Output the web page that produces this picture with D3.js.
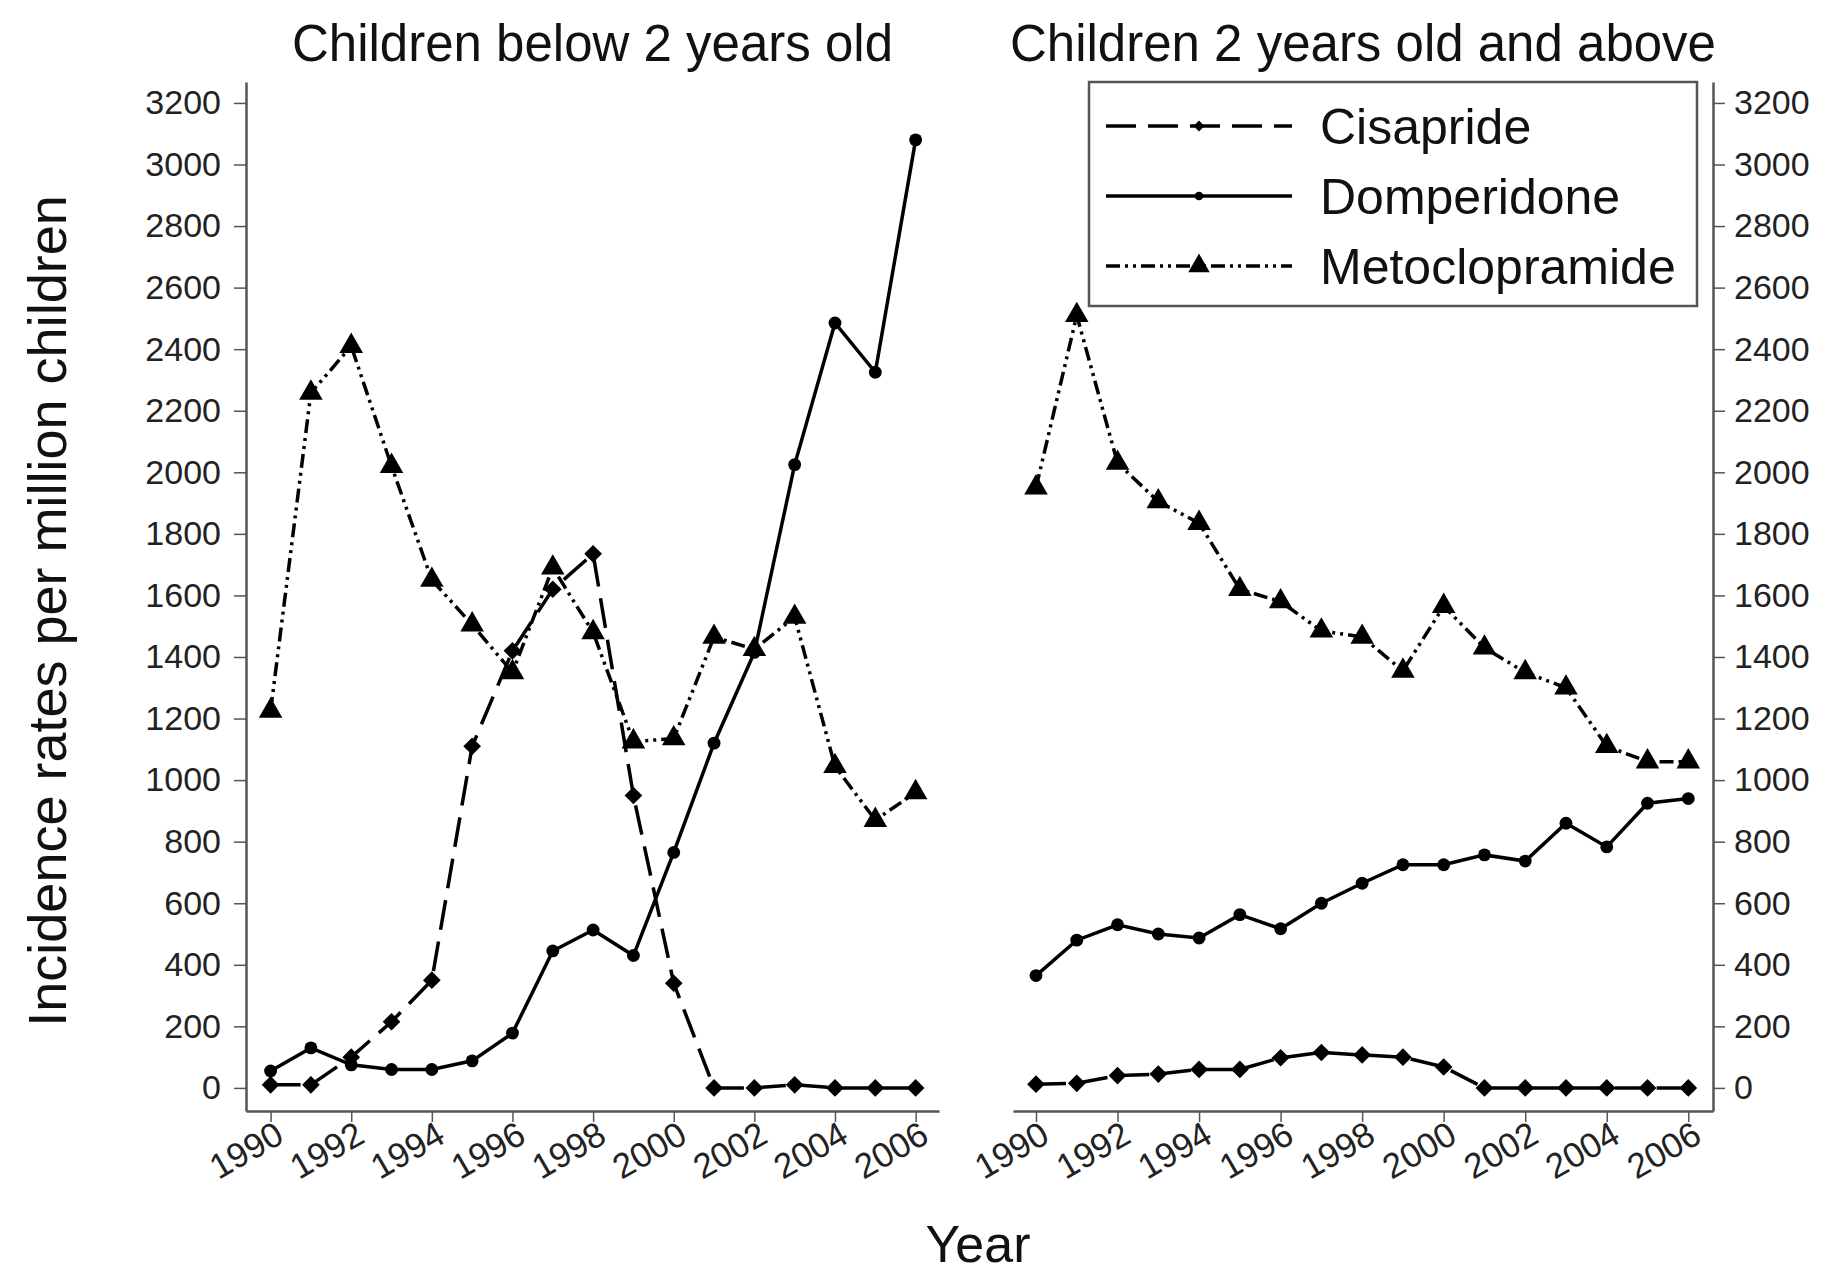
<!DOCTYPE html>
<html>
<head>
<meta charset="utf-8">
<script src="https://cdn.jsdelivr.net/npm/d3@7"></script>
<style>
  body { margin: 0; background: #fff; }
  svg { display: block; font-family: "Liberation Sans", Arial, sans-serif; }
  .axis text { fill: #222; }
</style>
</head>
<body>
<svg id="chart" width="1829" height="1275"></svg>
<script>
const years = [1990, 1991, 1992, 1993, 1994, 1995, 1996, 1997, 1998, 1999, 2000, 2001, 2002, 2003, 2004, 2005, 2006];
const xTicks = [1990, 1992, 1994, 1996, 1998, 2000, 2002, 2004, 2006];
const yTicks = [0, 200, 400, 600, 800, 1000, 1200, 1400, 1600, 1800, 2000, 2200, 2400, 2600, 2800, 3000, 3200];

// children below 2 years old
const cisaprideUnder2 = [10, 10, 100, 215, 350, 1110, 1420, 1620, 1735, 950, 340, 0, 0, 10, 0, 0, 0];
const domperidoneUnder2 = [55, 130, 75, 60, 60, 88, 178, 445, 513, 430, 765, 1120, 1415, 2025, 2485, 2325, 3080];
const metoclopramideUnder2 = [1225, 2258, 2410, 2020, 1650, 1505, 1350, 1690, 1480, 1125, 1135, 1465, 1425, 1530, 1045, 870, 960];

// children 2 years old and above
const cisaprideOver2 = [12, 15, 40, 45, 60, 60, 98, 115, 107, 100, 68, 0, 0, 0, 0, 0, 0];
const domperidoneOver2 = [365, 480, 530, 500, 487, 563, 517, 600, 665, 725, 725, 757, 737, 860, 783, 925, 940];
const metoclopramideOver2 = [1950, 2510, 2030, 1905, 1835, 1620, 1580, 1485, 1465, 1355, 1565, 1430, 1350, 1300, 1110, 1060, 1060];

const seriesNames = ['Cisapride', 'Domperidone', 'Metoclopramide'];
const panelTitles = ['Children below 2 years old', 'Children 2 years old and above'];

const styles = {
  Cisapride: { dash: '30,12', symbol: d3.symbolDiamond2, size: 200, legendSize: 75 },
  Domperidone: { dash: null, symbol: d3.symbolCircle, size: 130, legendSize: 60 },
  Metoclopramide: { dash: '14,5,3,5,3,5', symbol: d3.symbolTriangle, size: 240, legendSize: 200 }
};

const svg = d3.select('#chart');
const axisColor = '#555';

const y = d3.scaleLinear().domain([-75, 3268]).range([1111, 82]);

const panels = [
  { x: d3.scaleLinear().domain([1989.39, 2006.58]).range([246, 939]),
    data: [cisaprideUnder2, domperidoneUnder2, metoclopramideUnder2],
    yAxisSide: 'left', yAxisX: 246 },
  { x: d3.scaleLinear().domain([1989.436, 2006.606]).range([1013, 1713]),
    data: [cisaprideOver2, domperidoneOver2, metoclopramideOver2],
    yAxisSide: 'right', yAxisX: 1713 }
];

panels.forEach((p, pi) => {
  // x axis
  const xAxis = svg.append('g')
    .attr('class', 'axis')
    .attr('transform', 'translate(0,1111)')
    .call(d3.axisBottom(p.x).tickValues(xTicks).tickFormat(d3.format('d'))
      .tickSizeInner(11).tickSizeOuter(0));
  xAxis.select('.domain').attr('stroke', axisColor).attr('stroke-width', 2.5);
  xAxis.selectAll('.tick line').attr('stroke', axisColor).attr('stroke-width', 1.5);
  xAxis.selectAll('.tick text')
    .attr('font-size', 35)
    .attr('text-anchor', 'end')
    .attr('y', 0).attr('dy', 0)
    .attr('transform', 'translate(2,8) rotate(-30)')
    .attr('dominant-baseline', 'hanging');

  // y axis
  const yAxisGen = p.yAxisSide === 'left' ? d3.axisLeft(y) : d3.axisRight(y);
  const yAxis = svg.append('g')
    .attr('class', 'axis')
    .attr('transform', `translate(${p.yAxisX},0)`)
    .call(yAxisGen.tickValues(yTicks).tickFormat(d3.format('d'))
      .tickSizeInner(12).tickSizeOuter(0)
      .tickPadding(p.yAxisSide === 'left' ? 13 : 9));
  yAxis.select('.domain').attr('stroke', axisColor).attr('stroke-width', 2.5);
  yAxis.selectAll('.tick line').attr('stroke', axisColor).attr('stroke-width', 1.5);
  yAxis.selectAll('.tick text').attr('font-size', 34);

  // title
  const xr = p.x.range();
  svg.append('text')
    .attr('x', (xr[0] + xr[1]) / 2)
    .attr('y', 61)
    .attr('text-anchor', 'middle')
    .attr('font-size', 51)
    .attr('fill', '#111')
    .text(panelTitles[pi]);

  // lines
  seriesNames.forEach((name, si) => {
    const vals = p.data[si];
    const pts = years.map((yr, i) => [yr, vals[i]]);
    const line = d3.line().x(d => p.x(d[0])).y(d => y(d[1]));
    svg.append('path')
      .datum(pts)
      .attr('d', line)
      .attr('fill', 'none')
      .attr('stroke', '#000')
      .attr('stroke-width', 3.5)
      .attr('stroke-dasharray', styles[name].dash);
  });

  seriesNames.forEach((name, si) => {
    const vals = p.data[si];
    const sym = d3.symbol().type(styles[name].symbol).size(styles[name].size);
    svg.append('g').selectAll('path')
      .data(years.map((yr, i) => [yr, vals[i]]))
      .enter()
      .append('path')
      .attr('d', sym)
      .attr('transform', d => `translate(${p.x(d[0])},${y(d[1])})`)
      .attr('fill', '#000');
  });
});

// Legend
const legend = svg.append('g').attr('id', 'legend');
legend.append('rect')
  .attr('x', 1089).attr('y', 82)
  .attr('width', 608).attr('height', 224)
  .attr('fill', '#fff')
  .attr('stroke', axisColor)
  .attr('stroke-width', 2.5);

seriesNames.forEach((name, i) => {
  const ly = 126 + i * 70;
  legend.append('line')
    .attr('x1', 1106).attr('x2', 1292)
    .attr('y1', ly).attr('y2', ly)
    .attr('stroke', '#000')
    .attr('stroke-width', 3.5)
    .attr('stroke-dasharray', styles[name].dash);
  legend.append('path')
    .attr('d', d3.symbol().type(styles[name].symbol).size(styles[name].legendSize))
    .attr('transform', `translate(1199,${ly})`)
    .attr('fill', '#000');
  legend.append('text')
    .attr('x', 1320)
    .attr('y', ly)
    .attr('dy', '0.35em')
    .attr('font-size', 50)
    .attr('fill', '#111')
    .text(name);
});

// Axis titles
svg.append('text')
  .attr('transform', 'translate(47,611) rotate(-90)')
  .attr('text-anchor', 'middle')
  .attr('dy', '0.35em')
  .attr('font-size', 54)
  .attr('fill', '#111')
  .text('Incidence rates per million children');

svg.append('text')
  .attr('x', 978)
  .attr('y', 1262)
  .attr('text-anchor', 'middle')
  .attr('font-size', 52)
  .attr('fill', '#111')
  .text('Year');
</script>
</body>
</html>
